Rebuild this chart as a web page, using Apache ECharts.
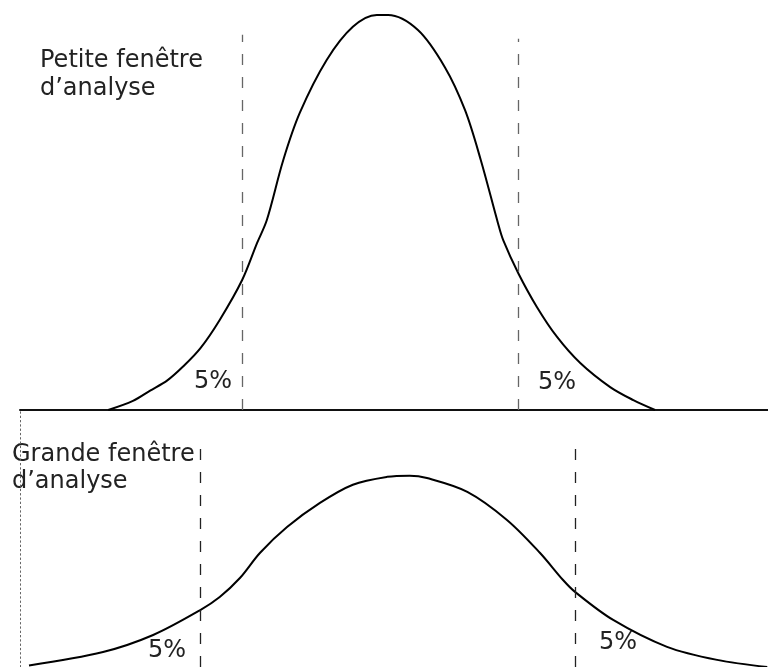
<!DOCTYPE html>
<html>
<head>
<meta charset="utf-8">
<script src="https://cdn.jsdelivr.net/npm/echarts@6/dist/echarts.min.js"></script>
<style>
  html, body { margin: 0; padding: 0; background: #fff; }
  #main { width: 768px; height: 667px; }
</style>
</head>
<body>
<div id="main"></div>
<script>
// petite fenêtre : courbe étroite
var topX = [-3.62, -3.29, -3.06, -2.83, -2.62, -2.39, -2.13, -1.83, -1.63, -1.50, -1.28, -1.06, -0.70, -0.35, -0.03, 0.12, 0.52, 0.88, 1.15, 1.36, 1.59, 1.66, 1.86, 2.11, 2.38, 2.69, 3.09, 3.40, 3.69];
var topY = [0, 2.3, 4.9, 7.5, 11.0, 15.6, 22.8, 32.9, 42.3, 48.1, 63.3, 75.2, 88.6, 97.0, 100, 100, 96.2, 86.8, 75.9, 63.3, 47.3, 43.0, 34.7, 26.1, 18.5, 11.9, 5.8, 2.5, 0];
// grande fenêtre : courbe large
var bottomX = [-4.68, -3.69, -3.02, -2.39, -2.13, -1.86, -1.59, -1.23, -0.79, -0.35, 0.11, 0.41, 0.64, 1.18, 1.71, 2.15, 2.46, 2.62, 3.13, 3.85, 4.52, 5.19];
var bottomY = [0.4, 3.8, 8.1, 14.4, 17.7, 22.5, 28.9, 35.4, 41.5, 46.1, 48.1, 48.4, 47.8, 44.3, 37.2, 28.9, 22.0, 19.0, 11.9, 5.1, 1.8, 0];
// seuils 5 %
var topCuts = [-1.83, 1.86];
var topCutHeights = [95, 94];
var bottomCuts = [-2.39, 2.62];
var bottomCutHeights = [57, 56];

var font = '24px "DejaVu Sans"';
var ink = '#222';

function pairs(xs, ys) {
  return xs.map(function (x, i) { return [x, ys[i]]; });
}
function cutLines(xs, hs) {
  return xs.map(function (x, i) { return [{ coord: [x, 0] }, { coord: [x, hs[i]] }]; });
}
// y = ligne de base du texte
function txt(text, x, y) {
  return { type: 'text', x: x, y: y - 19, style: { text: text, font: font, fill: ink, verticalAlign: 'top' } };
}

var myChart = echarts.init(document.getElementById('main'), null, { renderer: 'canvas' });
var option = {
  animation: false,
  grid: [
    { left: 20, right: 0, top: 15, height: 395 },
    { left: 20, right: 0, top: 410, bottom: 0 }
  ],
  xAxis: [
    {
      gridIndex: 0, type: 'value', min: -4.8, max: 5.2,
      axisLine: { show: true, onZero: false, lineStyle: { color: '#111', width: 2 } },
      axisTick: { show: false }, axisLabel: { show: false }, splitLine: { show: false }
    },
    {
      gridIndex: 1, type: 'value', min: -4.8, max: 5.2, show: false
    }
  ],
  yAxis: [
    { gridIndex: 0, type: 'value', min: 0, max: 100, show: false },
    {
      gridIndex: 1, type: 'value', min: 0, max: 65,
      axisLine: { show: true, onZero: false, lineStyle: { color: '#666', width: 1, type: [1.5, 2.8] } },
      axisTick: { show: false }, axisLabel: { show: false }, splitLine: { show: false }
    }
  ],
  series: [
    {
      type: 'line', xAxisIndex: 0, yAxisIndex: 0, data: pairs(topX, topY),
      smooth: 0.33, showSymbol: false, silent: true,
      lineStyle: { color: '#000', width: 2 },
      markLine: {
        silent: true, symbol: 'none', label: { show: false },
        lineStyle: { color: '#666', width: 1.3, type: [11, 12] },
        data: cutLines(topCuts, topCutHeights)
      }
    },
    {
      type: 'line', xAxisIndex: 1, yAxisIndex: 1, data: pairs(bottomX, bottomY),
      smooth: 0.33, showSymbol: false, silent: true,
      lineStyle: { color: '#000', width: 2 },
      markLine: {
        silent: true, symbol: 'none', label: { show: false },
        lineStyle: { color: '#222', width: 1.3, type: [11, 12] },
        data: cutLines(bottomCuts, bottomCutHeights)
      }
    }
  ],
  graphic: [
    txt('Petite fenêtre', 40, 68),
    txt('d’analyse', 40, 96),
    txt('5%', 194, 389),
    txt('5%', 538, 390),
    txt('Grande fenêtre', 12, 462),
    txt('d’analyse', 12, 489),
    txt('5%', 148, 658),
    txt('5%', 599, 650)
  ]
};
myChart.setOption(option);
</script>
</body>
</html>
